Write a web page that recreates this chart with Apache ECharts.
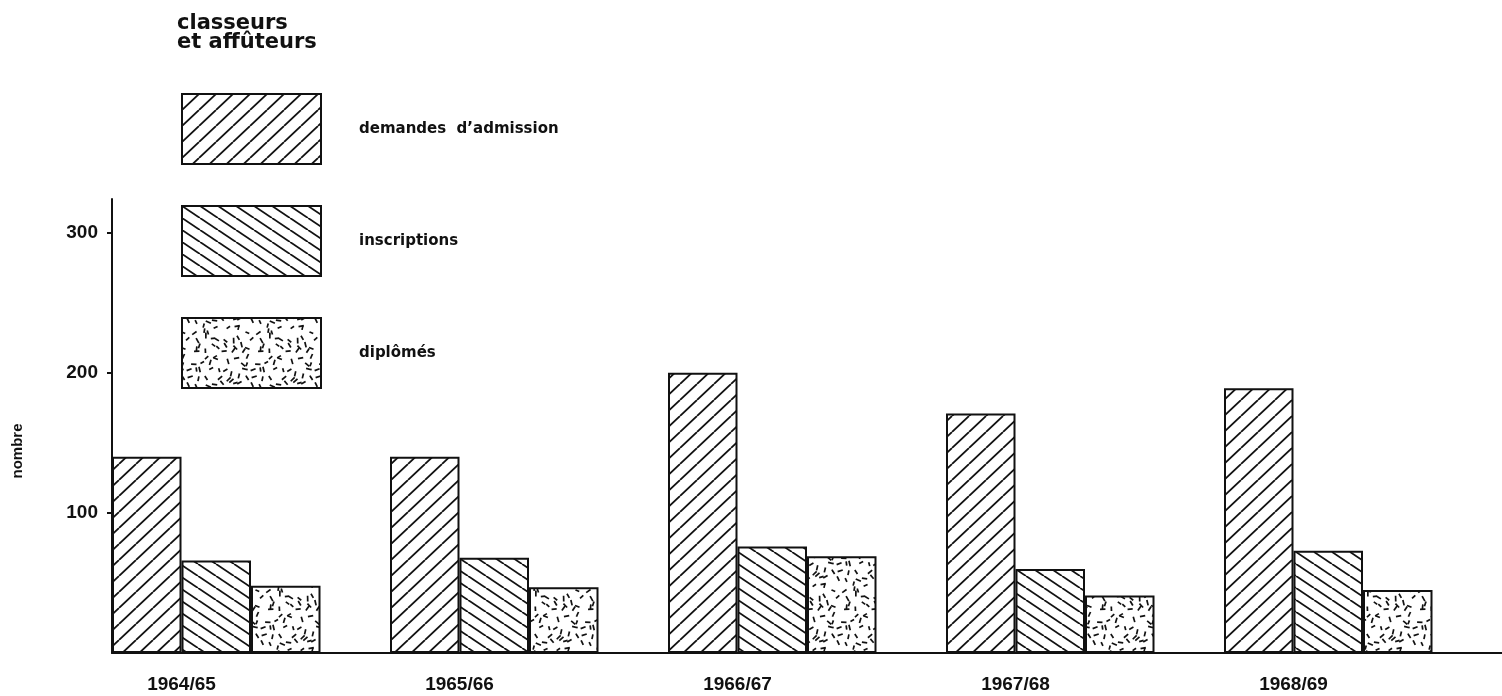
<!DOCTYPE html>
<html>
<head>
<meta charset="utf-8">
<script src="https://cdn.jsdelivr.net/npm/echarts@6/dist/echarts.min.js"></script>
<style>html,body{margin:0;padding:0;background:#fff;}#chart{width:1502px;height:696px;}</style>
</head>
<body>
<div id="chart"></div>
<script>
// ---- data ----
const categories = ['1964/65', '1965/66', '1966/67', '1967/68', '1968/69'];
const demandes = [140, 140, 200, 171, 189];
const inscriptions = [66, 68, 76, 60, 73];
const diplomes = [48, 47, 69, 41, 45];
const seriesNames = ['demandes  d\u2019admission', 'inscriptions', 'dipl\u00f4m\u00e9s'];
const yTicks = [100, 200, 300];

// ---- patterns (textures only) ----
function hatch(w, h, dir) {
  const c = document.createElement('canvas');
  c.width = w; c.height = h;
  const g = c.getContext('2d');
  g.fillStyle = '#fff'; g.fillRect(0, 0, w, h);
  g.strokeStyle = '#111'; g.lineWidth = 1.8;
  for (let k = -1; k <= 1; k++) {
    g.beginPath();
    if (dir > 0) { g.moveTo(k * w, h); g.lineTo(k * w + w, 0); }
    else { g.moveTo(k * w, 0); g.lineTo(k * w + w, h); }
    g.stroke();
  }
  return c;
}
function stipple(size, cell) {
  // jittered grid of short dashes for an even texture
  const c = document.createElement('canvas');
  c.width = size; c.height = size;
  const g = c.getContext('2d');
  g.fillStyle = '#fff'; g.fillRect(0, 0, size, size);
  g.strokeStyle = '#111'; g.lineWidth = 1.7; g.lineCap = 'butt';
  let s = 98765;
  const rnd = () => { s = (s * 16807) % 2147483647; return s / 2147483647; };
  for (let gy = 0; gy < size; gy += cell) for (let gx = 0; gx < size; gx += cell) {
    const x = gx + rnd() * cell, y = gy + rnd() * cell, a = rnd() * Math.PI, L = 4 + rnd() * 2;
    const dx = Math.cos(a) * L / 2, dy = Math.sin(a) * L / 2;
    for (const ox of [-size, 0, size]) for (const oy of [-size, 0, size]) {
      g.beginPath(); g.moveTo(x - dx + ox, y - dy + oy); g.lineTo(x + dx + ox, y + dy + oy); g.stroke();
    }
  }
  return c;
}
const patA = { image: hatch(17, 16, 1), repeat: 'repeat' };
const patB = { image: hatch(18, 12, -1), repeat: 'repeat' };
const patC = { image: stipple(64, 8), repeat: 'repeat' };

const chart = echarts.init(document.getElementById('chart'));
const boldLS = { fontFamily: 'Liberation Sans', fontWeight: 'bold', color: '#111' };
const barStyle = (p) => ({ color: p, borderColor: '#111', borderWidth: 2 });

chart.setOption({
  animation: false,
  title: {
    text: 'classeurs\net aff\u00fbteurs', left: 172, top: 9,
    textStyle: { fontFamily: 'DejaVu Sans', fontWeight: 'bold', fontSize: 21, lineHeight: 19, color: '#111' }
  },
  legend: {
    orient: 'vertical', left: 176, top: 88, itemWidth: 139, itemHeight: 70, itemGap: 40,
    selectedMode: false, icon: 'rect', data: seriesNames,
    textStyle: { fontFamily: 'DejaVu Sans', fontWeight: 'bold', fontSize: 15, color: '#111', padding: [0, 0, 0, 33] }
  },
  grid: { left: 112, width: 1391, top: 199, bottom: 43, containLabel: false },
  xAxis: {
    type: 'category', data: categories,
    axisLine: { lineStyle: { color: '#111', width: 2 } },
    axisTick: { show: false },
    axisLabel: Object.assign({ fontSize: 19, margin: 22, align: 'center', padding: [0, 139, 0, 0] }, boldLS)
  },
  yAxis: {
    type: 'value', min: 0, max: 324, interval: 100,
    splitLine: { show: false },
    axisLine: { show: true, lineStyle: { color: '#111', width: 2 } },
    axisTick: { show: true, length: 5, customValues: yTicks, lineStyle: { color: '#111', width: 2 } },
    axisLabel: Object.assign({ fontSize: 19, margin: 14, customValues: yTicks }, boldLS)
  },
  graphic: [{
    type: 'text', x: 18, y: 451, rotation: Math.PI / 2,
    style: { text: 'nombre', fontFamily: 'Liberation Sans', fontWeight: 'bold', fontSize: 15, fill: '#111', align: 'center', verticalAlign: 'middle' }
  }],
  series: [
    { name: seriesNames[0], type: 'bar', data: demandes, barGap: '0%', barCategoryGap: '0%', itemStyle: barStyle(patA) },
    { name: seriesNames[1], type: 'bar', data: inscriptions, itemStyle: barStyle(patB) },
    { name: seriesNames[2], type: 'bar', data: diplomes, itemStyle: barStyle(patC) },
    { name: 'spacer', type: 'bar', data: categories.map(() => '-'), silent: true, itemStyle: { color: 'transparent' } }
  ]
});
</script>
</body>
</html>
